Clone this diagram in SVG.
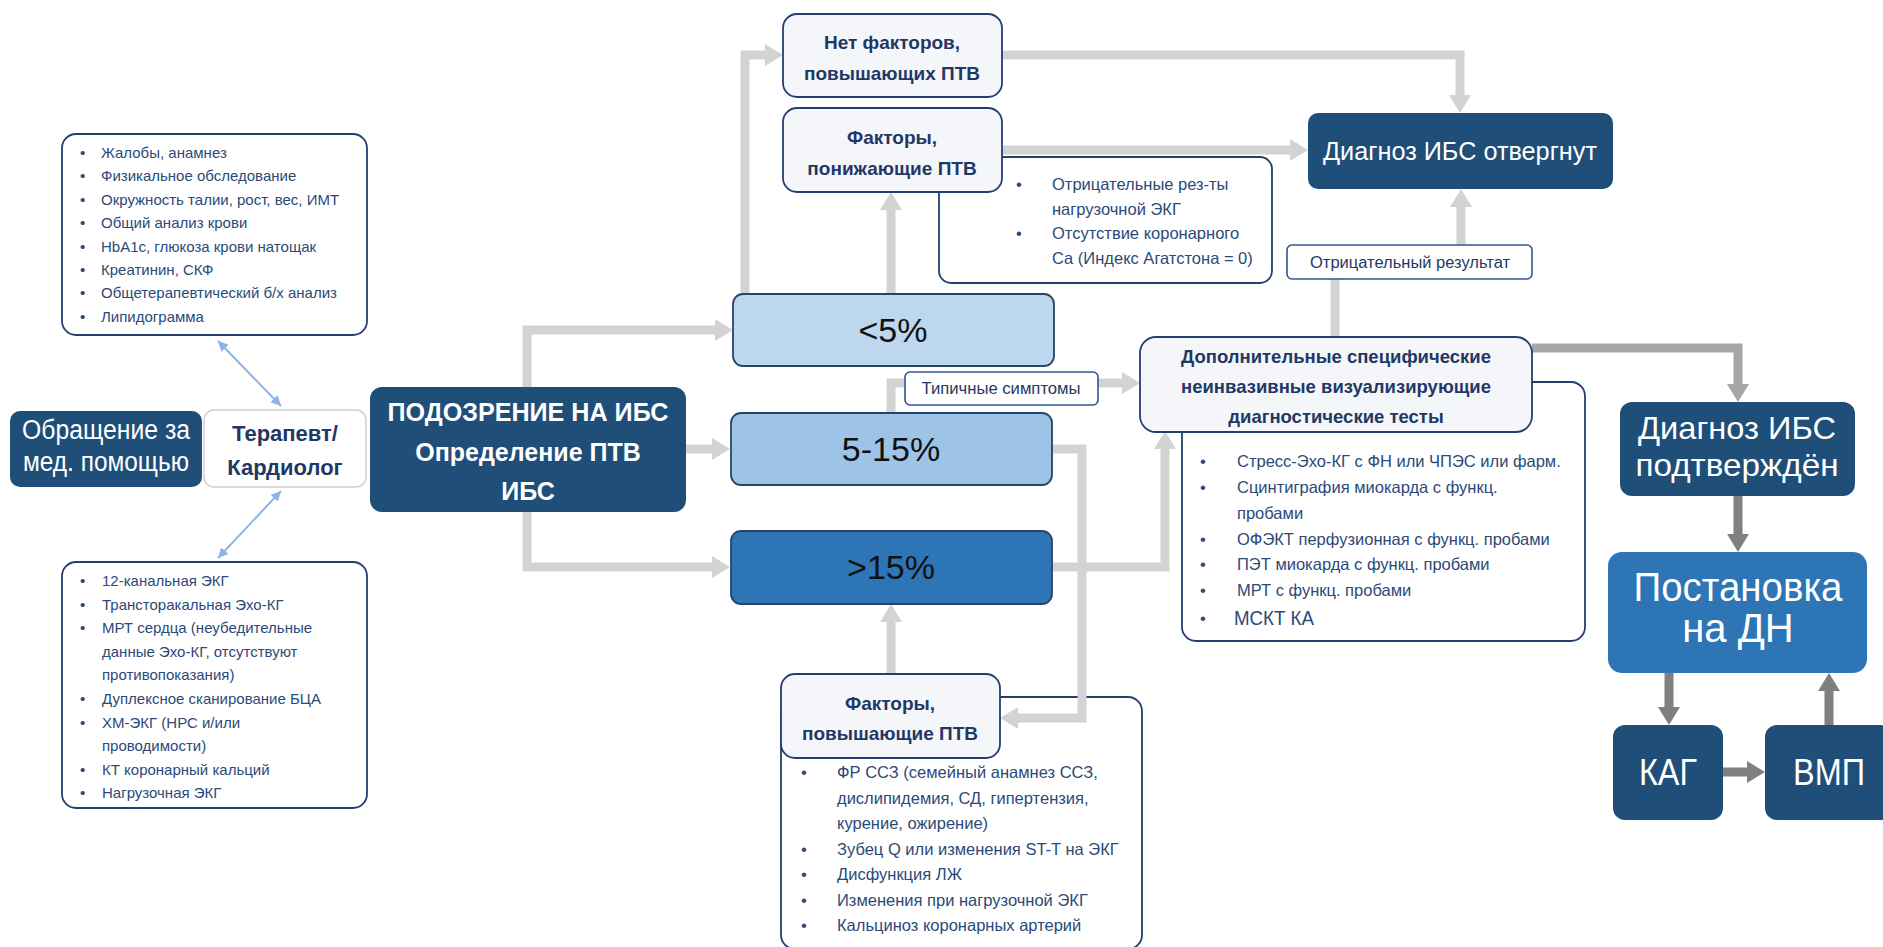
<svg xmlns="http://www.w3.org/2000/svg" width="1883" height="947" viewBox="0 0 1883 947">
<style>
text{font-family:"Liberation Sans",Arial,sans-serif}
.dark{fill:#1F4E79}
.mid{fill:#2E75B6}
.lst{fill:#fff;stroke:#22406E;stroke-width:1.8}
.fac{fill:#F4F6F9;stroke:#22406E;stroke-width:1.8}
.lbl{fill:#fff;stroke:#2F5597;stroke-width:1.6}
.pct{stroke:#2A4466;stroke-width:1.8}
.li{font-size:15px;fill:#2B4A78}
.li2{font-size:16.5px;fill:#2B4A78}
.bt{font-size:19px;font-weight:bold;fill:#1F3864;text-anchor:middle}
.wt{fill:#fff;text-anchor:middle}
.c1{fill:none;stroke:#D3D3D3;stroke-width:9}
.c2{fill:none;stroke:#A6A6A6;stroke-width:9}
.c3{fill:none;stroke:#808080;stroke-width:9}
.cb{fill:none;stroke:#8DB4E2;stroke-width:2}
</style>
<defs>
<marker id="a1" viewBox="0 0 18 22" refX="0" refY="11" markerWidth="18" markerHeight="22" markerUnits="userSpaceOnUse" orient="auto"><path d="M0,0L18,11L0,22Z" fill="#D3D3D3"/></marker>
<marker id="a2" viewBox="0 0 18 22" refX="0" refY="11" markerWidth="18" markerHeight="22" markerUnits="userSpaceOnUse" orient="auto"><path d="M0,0L18,11L0,22Z" fill="#A6A6A6"/></marker>
<marker id="a3" viewBox="0 0 18 22" refX="0" refY="11" markerWidth="18" markerHeight="22" markerUnits="userSpaceOnUse" orient="auto"><path d="M0,0L18,11L0,22Z" fill="#808080"/></marker>
<marker id="ab" viewBox="0 0 10 10" refX="10" refY="5" markerWidth="10" markerHeight="10" markerUnits="userSpaceOnUse" orient="auto-start-reverse"><path d="M0,0L10,5L0,10Z" fill="#8DB4E2"/></marker>
</defs>
<rect width="1883" height="947" fill="#fff"/>

<g id="list-top">
<rect class="lst" x="62" y="134" width="305" height="201" rx="14"/>
<g class="li">
<text x="80" y="158">•</text><text x="101" y="158">Жалобы, анамнез</text>
<text x="80" y="181.4">•</text><text x="101" y="181.4">Физикальное обследование</text>
<text x="80" y="204.8">•</text><text x="101" y="204.8">Окружность талии, рост, вес, ИМТ</text>
<text x="80" y="228.2">•</text><text x="101" y="228.2">Общий анализ крови</text>
<text x="80" y="251.6">•</text><text x="101" y="251.6">HbA1c, глюкоза крови натощак</text>
<text x="80" y="275">•</text><text x="101" y="275">Креатинин, СКФ</text>
<text x="80" y="298.4">•</text><text x="101" y="298.4">Общетерапевтический б/х анализ</text>
<text x="80" y="321.8">•</text><text x="101" y="321.8">Липидограмма</text>
</g>
</g>
<g id="list-bottom">
<rect class="lst" x="62" y="562" width="305" height="246" rx="14"/>
<g class="li">
<text x="80" y="586">•</text><text x="102" y="586">12-канальная  ЭКГ</text>
<text x="80" y="609.6">•</text><text x="102" y="609.6">Трансторакальная  Эхо-КГ</text>
<text x="80" y="633.2">•</text><text x="102" y="633.2">МРТ сердца (неубедительные</text>
<text x="102" y="656.8">данные  Эхо-КГ, отсутствуют</text>
<text x="102" y="680.4">противопоказания)</text>
<text x="80" y="704">•</text><text x="102" y="704">Дуплексное  сканирование  БЦА</text>
<text x="80" y="727.6">•</text><text x="102" y="727.6">ХМ-ЭКГ (НРС и/или</text>
<text x="102" y="751.2">проводимости)</text>
<text x="80" y="774.8">•</text><text x="102" y="774.8">КТ коронарный  кальций</text>
<text x="80" y="798.4">•</text><text x="102" y="798.4">Нагрузочная  ЭКГ</text>
</g>
</g>
<g id="list-lower">
<rect class="lst" x="939" y="157" width="333" height="126" rx="12"/>
<g class="li2">
<text x="1016" y="190">•</text><text x="1052" y="190">Отрицательные  рез-ты</text>
<text x="1052" y="214.5">нагрузочной  ЭКГ</text>
<text x="1016" y="239">•</text><text x="1052" y="239">Отсутствие  коронарного</text>
<text x="1052" y="263.5">Са (Индекс Агатстона  = 0)</text>
</g>
</g>
<g id="list-tests">
<rect class="lst" x="1182" y="382" width="403" height="259" rx="14"/>
<g class="li2">
<text x="1200" y="467">•</text><text x="1237" y="467">Стресс-Эхо-КГ с ФН или ЧПЭС или фарм.</text>
<text x="1200" y="493">•</text><text x="1237" y="493">Сцинтиграфия  миокарда с функц.</text>
<text x="1237" y="519">пробами</text>
<text x="1200" y="545">•</text><text x="1237" y="545">ОФЭКТ перфузионная  с функц. пробами</text>
<text x="1200" y="570">•</text><text x="1237" y="570">ПЭТ миокарда с функц. пробами</text>
<text x="1200" y="596">•</text><text x="1237" y="596">МРТ с функц. пробами</text>
<text x="1200" y="624">•</text><text x="1234" y="625" style="font-size:20px" textLength="80" lengthAdjust="spacingAndGlyphs">МСКТ КА</text>
</g>
</g>
<g id="list-raise">
<rect class="lst" x="781" y="697" width="361" height="252" rx="14"/>
<g class="li2">
<text x="801" y="778">•</text><text x="837" y="778">ФР ССЗ (семейный анамнез ССЗ,</text>
<text x="837" y="803.5">дислипидемия,  СД, гипертензия,</text>
<text x="837" y="829">курение,  ожирение)</text>
<text x="801" y="854.5">•</text><text x="837" y="854.5">Зубец Q или изменения ST-T на ЭКГ</text>
<text x="801" y="880">•</text><text x="837" y="880">Дисфункция ЛЖ</text>
<text x="801" y="905.5">•</text><text x="837" y="905.5">Изменения при нагрузочной  ЭКГ</text>
<text x="801" y="931">•</text><text x="837" y="931">Кальциноз коронарных артерий</text>
</g>
</g>

<g id="connectors">
<path class="c1" d="M527 387V330H715" marker-end="url(#a1)"/>
<path class="c1" d="M686 449H712" marker-end="url(#a1)"/>
<path class="c1" d="M527 512V567H712" marker-end="url(#a1)"/>
<path class="c1" d="M745 294V55H765" marker-end="url(#a1)"/>
<path class="c1" d="M891 294V210" marker-end="url(#a1)"/>
<path class="c1" d="M1002 55H1460V95" marker-end="url(#a1)"/>
<path class="c1" d="M1002 150H1290" marker-end="url(#a1)"/>
<path class="c1" d="M1335 337V279"/>
<path class="c1" d="M1461 245V207" marker-end="url(#a1)"/>
<path class="c1" d="M891 413V383H910"/>
<path class="c1" d="M1098 383H1122" marker-end="url(#a1)"/>
<path class="c1" d="M1052 449H1082V718H1018" marker-end="url(#a1)"/>
<path class="c1" d="M1052 567H1165V449" marker-end="url(#a1)"/>
<path class="c1" d="M891 675V622" marker-end="url(#a1)"/>
<path class="c2" d="M1532 348H1738V384" marker-end="url(#a2)"/>
<path class="c3" d="M1738 496V534" marker-end="url(#a3)"/>
<path class="c3" d="M1669 673V707" marker-end="url(#a3)"/>
<path class="c3" d="M1723 772H1747" marker-end="url(#a3)"/>
<path class="c3" d="M1829 725V691" marker-end="url(#a3)"/>
<path class="cb" d="M218 341L281 406" marker-start="url(#ab)" marker-end="url(#ab)"/>
<path class="cb" d="M281 491L218 558" marker-start="url(#ab)" marker-end="url(#ab)"/>
</g>

<g id="obrashchenie">
<rect class="dark" x="10" y="411" width="192" height="76" rx="10"/>
<text class="wt" x="106" y="439" style="font-size:27px" textLength="168" lengthAdjust="spacingAndGlyphs">Обращение за</text>
<text class="wt" x="106" y="471" style="font-size:27px" textLength="166" lengthAdjust="spacingAndGlyphs">мед. помощью</text>
</g>
<g id="terapevt">
<rect x="204" y="410" width="162" height="77" rx="10" fill="#fff" stroke="#D0D0D0" stroke-width="1.5"/>
<text class="bt" x="285" y="441" style="font-size:22px">Терапевт/</text>
<text class="bt" x="285" y="475" style="font-size:22px">Кардиолог</text>
</g>
<g id="podozrenie">
<rect class="dark" x="370" y="387" width="316" height="125" rx="12"/>
<text class="wt" x="528" y="421" style="font-size:25px;font-weight:bold" textLength="281" lengthAdjust="spacingAndGlyphs">ПОДОЗРЕНИЕ НА ИБС</text>
<text class="wt" x="528" y="461" style="font-size:25px;font-weight:bold">Определение ПТВ</text>
<text class="wt" x="528" y="500" style="font-size:25px;font-weight:bold">ИБС</text>
</g>
<g id="pct-low">
<rect class="pct" x="733" y="294" width="321" height="72" rx="10" fill="#BDD7EE"/>
<text x="893" y="342" style="font-size:34px;fill:#111;text-anchor:middle">&lt;5%</text>
</g>
<g id="pct-mid">
<rect class="pct" x="731" y="413" width="321" height="72" rx="10" fill="#9DC3E6"/>
<text x="891" y="461" style="font-size:34px;fill:#111;text-anchor:middle">5-15%</text>
</g>
<g id="pct-high">
<rect class="pct" x="731" y="531" width="321" height="73" rx="10" fill="#2E75B6"/>
<text x="891" y="579" style="font-size:34px;fill:#111;text-anchor:middle">&gt;15%</text>
</g>
<g id="net-faktorov">
<rect class="fac" x="783" y="14" width="219" height="83" rx="14"/>
<text class="bt" x="892" y="49">Нет факторов,</text>
<text class="bt" x="892" y="80">повышающих ПТВ</text>
</g>
<g id="faktory-ponizh">
<rect class="fac" x="783" y="108" width="219" height="84" rx="14"/>
<text class="bt" x="892" y="144">Факторы,</text>
<text class="bt" x="892" y="175">понижающие ПТВ</text>
</g>
<g id="faktory-povysh">
<rect class="fac" x="781" y="674" width="219" height="84" rx="14"/>
<text class="bt" x="890" y="710">Факторы,</text>
<text class="bt" x="890" y="740">повышающие ПТВ</text>
</g>
<g id="label-typical">
<rect class="lbl" x="905" y="372" width="193" height="33" rx="5"/>
<text x="1001" y="394" style="font-size:16px;fill:#1F3864;text-anchor:middle" textLength="159" lengthAdjust="spacingAndGlyphs">Типичные  симптомы</text>
</g>
<g id="label-negative">
<rect class="lbl" x="1287" y="245" width="245" height="34" rx="5"/>
<text x="1410" y="268" style="font-size:16px;fill:#1F3864;text-anchor:middle" textLength="200" lengthAdjust="spacingAndGlyphs">Отрицательный  результат</text>
</g>
<g id="dop-tests">
<rect class="fac" x="1140" y="337" width="392" height="95" rx="16"/>
<text class="bt" x="1336" y="363" style="font-size:18.5px">Дополнительные специфические</text>
<text class="bt" x="1336" y="393" style="font-size:18.5px">неинвазивные визуализирующие</text>
<text class="bt" x="1336" y="423" style="font-size:18.5px">диагностические тесты</text>
</g>
<g id="diag-otverg">
<rect class="dark" x="1308" y="113" width="305" height="76" rx="10"/>
<text class="wt" x="1460" y="160" style="font-size:26px" textLength="274" lengthAdjust="spacingAndGlyphs">Диагноз ИБС отвергнут</text>
</g>
<g id="diag-podtv">
<rect class="dark" x="1620" y="402" width="235" height="94" rx="12"/>
<text class="wt" x="1737" y="439" style="font-size:32px" textLength="198" lengthAdjust="spacingAndGlyphs">Диагноз ИБС</text>
<text class="wt" x="1737" y="476" style="font-size:32px" textLength="203" lengthAdjust="spacingAndGlyphs">подтверждён</text>
</g>
<g id="postanovka">
<rect class="mid" x="1608" y="552" width="259" height="121" rx="14"/>
<text class="wt" x="1738" y="601" style="font-size:40px" textLength="209" lengthAdjust="spacingAndGlyphs">Постановка</text>
<text class="wt" x="1738" y="642" style="font-size:40px">на ДН</text>
</g>
<g id="kag">
<rect class="dark" x="1613" y="725" width="110" height="95" rx="12"/>
<text class="wt" x="1668" y="785" style="font-size:36px" textLength="58" lengthAdjust="spacingAndGlyphs">КАГ</text>
</g>
<g id="vmp">
<rect class="dark" x="1765" y="725" width="128" height="95" rx="12"/>
<text class="wt" x="1829" y="785" style="font-size:36px" textLength="72" lengthAdjust="spacingAndGlyphs">ВМП</text>
</g>
</svg>
